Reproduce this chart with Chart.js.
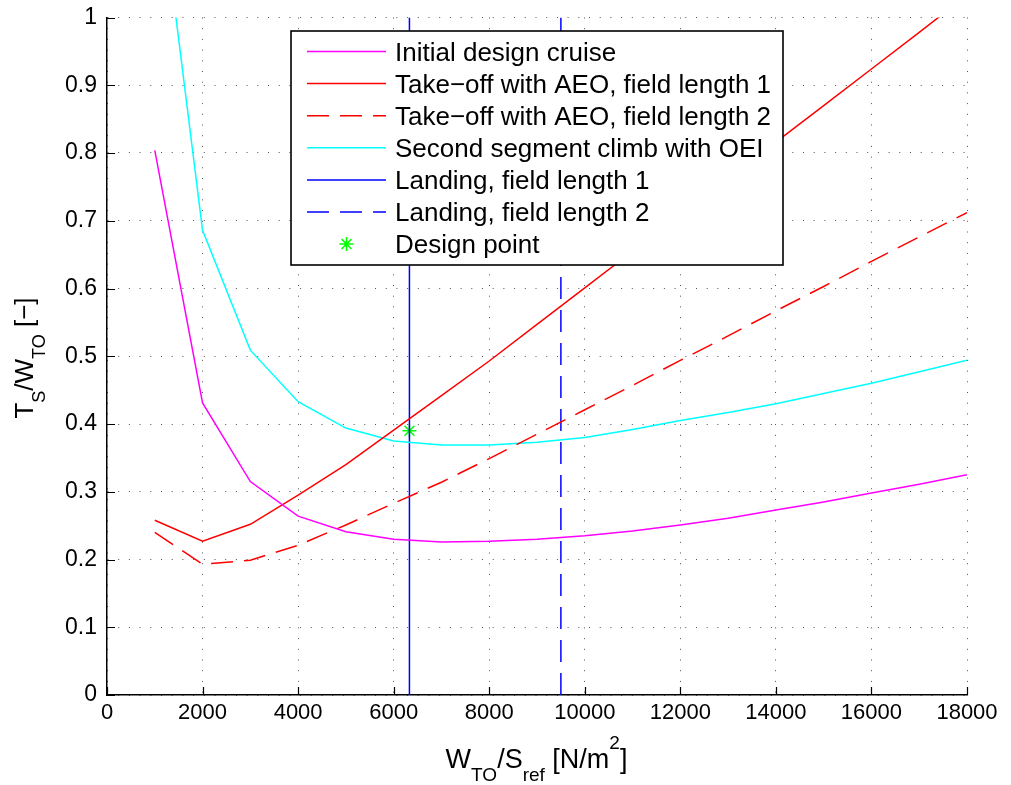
<!DOCTYPE html>
<html>
<head>
<meta charset="utf-8">
<script src="https://cdn.jsdelivr.net/npm/chart.js@4/dist/chart.umd.min.js"></script>
<style>
  html, body { margin: 0; padding: 0; background: #ffffff; }
  #wrap { width: 1011px; height: 785px; position: relative; }
</style>
</head>
<body>
<div id="wrap"><canvas id="constraintChart"></canvas></div>
<script>
// Wing loading W_TO/S_ref [N/m^2] at which the constraints were evaluated
const wingLoading = [1000, 2000, 3000, 4000, 5000, 6000, 7000, 8000, 9000,
                     10000, 11000, 12000, 13000, 14000, 15000, 16000, 17000, 18000];

// Required thrust-to-weight ratio T_S/W_TO for each constraint
const cruise      = [0.804, 0.431, 0.315, 0.264, 0.241, 0.230, 0.226, 0.227, 0.230,
                     0.235, 0.242, 0.251, 0.261, 0.273, 0.285, 0.298, 0.311, 0.325];
const takeoffAEO1 = [0.258, 0.227, 0.252, 0.295, 0.340, 0.391, 0.442, 0.493, 0.547,
                     0.601, 0.655, 0.709, 0.763, 0.816, 0.870, 0.924, 0.978, 1.033];
const takeoffAEO2 = [0.240, 0.193, 0.199, 0.221, 0.251, 0.283, 0.314, 0.349, 0.385,
                     0.421, 0.457, 0.494, 0.530, 0.567, 0.603, 0.640, 0.676, 0.712];
const climbOEI    = [1.250, 0.686, 0.509, 0.433, 0.394, 0.375, 0.369, 0.369, 0.373,
                     0.380, 0.392, 0.405, 0.417, 0.430, 0.445, 0.460, 0.477, 0.494];

// Landing limits on wing loading (vertical lines)
const landingLimit1 = 6330;
const landingLimit2 = 9500;
const landingSpan = [0, 1];

// Chosen design point
const designWingLoading = 6330;
const designThrustRatio = 0.39;

const seriesLabels = [
  'Initial design cruise',
  'Take\u2212off with AEO, field length 1',
  'Take\u2212off with AEO, field length 2',
  'Second segment climb with OEI',
  'Landing, field length 1',
  'Landing, field length 2',
  'Design point'
];

const xTickValues = [0, 2000, 4000, 6000, 8000, 10000, 12000, 14000, 16000, 18000];
const yTickValues = [0, 0.1, 0.2, 0.3, 0.4, 0.5, 0.6, 0.7, 0.8, 0.9, 1];

const FONT = "'Liberation Sans', Arial, Helvetica, sans-serif";
const DASH = [22, 11];

const toPoints = (xs, ys) => xs.map((x, i) => ({ x: x, y: ys[i] }));
const vertical = (x) => landingSpan.map(y => ({ x: x, y: y }));

const lineStyle = (color, dash) => ({
  showLine: true, borderColor: color, backgroundColor: color, borderWidth: 1.5,
  borderDash: dash || [], pointRadius: 0, pointHoverRadius: 0, tension: 0, fill: false
});

const datasets = [
  Object.assign({ label: seriesLabels[0], data: toPoints(wingLoading, cruise) }, lineStyle('#ff00ff')),
  Object.assign({ label: seriesLabels[1], data: toPoints(wingLoading, takeoffAEO1) }, lineStyle('#ff0000')),
  Object.assign({ label: seriesLabels[2], data: toPoints(wingLoading, takeoffAEO2) }, lineStyle('#ff0000', DASH)),
  Object.assign({ label: seriesLabels[3], data: toPoints(wingLoading, climbOEI) }, lineStyle('#00ffff')),
  Object.assign({ label: seriesLabels[4], data: vertical(landingLimit1) }, lineStyle('#0000ff')),
  Object.assign({ label: seriesLabels[5], data: vertical(landingLimit2) }, lineStyle('#0000ff', DASH)),
  {
    label: seriesLabels[6],
    data: [{ x: designWingLoading, y: designThrustRatio }],
    showLine: false, pointStyle: 'star', pointRadius: 7, pointHoverRadius: 7,
    borderColor: '#00ff00', backgroundColor: '#00ff00', pointBorderWidth: 1.5, borderWidth: 1.5
  }
];

// Draws a string made of normal / subscript / superscript runs, centred on cx
function drawRuns(ctx, runs, cx, baseY) {
  let total = 0;
  runs.forEach(r => {
    ctx.font = r.size + 'px ' + FONT;
    r.w = ctx.measureText(r.text).width;
    total += r.w;
  });
  let x = cx - total / 2;
  ctx.textAlign = 'left';
  ctx.textBaseline = 'alphabetic';
  runs.forEach(r => {
    ctx.font = r.size + 'px ' + FONT;
    ctx.fillText(r.text, x, baseY + r.dy);
    x += r.w;
  });
}

// Inward tick marks, axis titles and the boxed legend
const decorations = {
  id: 'decorations',
  afterDraw(chart) {
    const ctx = chart.ctx;
    const xs = chart.scales.x, ys = chart.scales.y;
    const area = chart.chartArea;
    const tickLen = 8;

    ctx.save();
    ctx.strokeStyle = '#000';
    ctx.lineWidth = 1.2;
    ctx.beginPath();
    xTickValues.forEach(v => {
      const px = Math.round(xs.getPixelForValue(v)) + 0.5;
      ctx.moveTo(px, area.bottom);
      ctx.lineTo(px, area.bottom - tickLen);
    });
    yTickValues.forEach(v => {
      const py = Math.round(ys.getPixelForValue(v)) + 0.5;
      ctx.moveTo(area.left, py);
      ctx.lineTo(area.left + tickLen, py);
    });
    ctx.stroke();
    ctx.restore();

    // axis titles
    ctx.save();
    ctx.fillStyle = '#000';
    drawRuns(ctx, [
      { text: 'W', size: 27, dy: 0 },
      { text: 'TO', size: 19, dy: 13 },
      { text: '/S', size: 27, dy: 0 },
      { text: 'ref', size: 19, dy: 13 },
      { text: ' [N/m', size: 27, dy: 0 },
      { text: '2', size: 19, dy: -19 },
      { text: ']', size: 27, dy: 0 }
    ], 536.5, 768);
    ctx.translate(33, 358);
    ctx.rotate(-Math.PI / 2);
    drawRuns(ctx, [
      { text: 'T', size: 26, dy: 0 },
      { text: 'S', size: 18, dy: 12 },
      { text: '/W', size: 26, dy: 0 },
      { text: 'TO', size: 18, dy: 12 },
      { text: ' [\u2212]', size: 26, dy: 0 }
    ], 0, 0);
    ctx.restore();

    // legend
    const box = { left: 291, top: 31, width: 492, height: 234 };
    const rowH = 32.1, firstRow = 51.5;
    const lineX0 = 307, lineX1 = 386, textX = 395;
    ctx.save();
    ctx.fillStyle = '#fff';
    ctx.fillRect(box.left, box.top, box.width, box.height);
    ctx.strokeStyle = '#000';
    ctx.lineWidth = 1.6;
    ctx.strokeRect(box.left, box.top, box.width, box.height);
    chart.data.datasets.forEach((ds, i) => {
      const cy = firstRow + i * rowH;
      if (ds.showLine) {
        ctx.save();
        ctx.strokeStyle = ds.borderColor;
        ctx.lineWidth = ds.borderWidth;
        ctx.setLineDash(ds.borderDash || []);
        ctx.beginPath();
        ctx.moveTo(lineX0, cy);
        ctx.lineTo(lineX1, cy);
        ctx.stroke();
        ctx.restore();
      } else {
        ctx.save();
        ctx.strokeStyle = ds.borderColor;
        ctx.fillStyle = ds.backgroundColor;
        ctx.lineWidth = ds.pointBorderWidth;
        Chart.helpers.drawPoint(ctx, { pointStyle: ds.pointStyle, radius: ds.pointRadius, borderWidth: ds.pointBorderWidth, rotation: 0 }, (lineX0 + lineX1) / 2, cy);
        ctx.restore();
      }
      ctx.fillStyle = '#000';
      ctx.font = '26px ' + FONT;
      ctx.textAlign = 'left';
      ctx.textBaseline = 'alphabetic';
      ctx.fillText(ds.label, textX, cy + 9.3);
    });
    ctx.restore();
  }
};

new Chart(document.getElementById('constraintChart'), {
  type: 'scatter',
  data: { datasets: datasets },
  options: {
    responsive: true,
    maintainAspectRatio: false,
    animation: false,
    devicePixelRatio: 1,
    layout: { padding: { top: 17.5, right: 44, left: 0, bottom: 0 } },
    plugins: { legend: { display: false }, tooltip: { enabled: false } },
    scales: {
      x: {
        type: 'linear', min: 0, max: 18000,
        afterBuildTicks: s => { s.ticks = xTickValues.map(v => ({ value: v })); },
        afterFit: s => { s.height = 90; s.paddingLeft = 0; s.paddingRight = 0; },
        ticks: { color: '#000', font: { family: FONT, size: 22 }, padding: 5, maxRotation: 0, autoSkip: false,
                 callback: v => String(v) },
        grid: { color: '#555', lineWidth: 1, drawTicks: false },
        border: { display: true, color: '#000', width: 1.5, dash: [1, 9.7] }
      },
      y: {
        type: 'linear', min: 0, max: 1,
        afterBuildTicks: s => { s.ticks = yTickValues.map(v => ({ value: v })); },
        afterFit: s => { s.width = 107; s.paddingTop = 0; s.paddingBottom = 0; },
        ticks: { color: '#000', font: { family: FONT, size: 23 }, padding: 10,
                 callback: v => String(+Number(v).toFixed(1)) },
        grid: { color: '#555', lineWidth: 1, drawTicks: false },
        border: { display: true, color: '#000', width: 1.5, dash: [1, 9.7] }
      }
    }
  },
  plugins: [decorations]
});
</script>
</body>
</html>
